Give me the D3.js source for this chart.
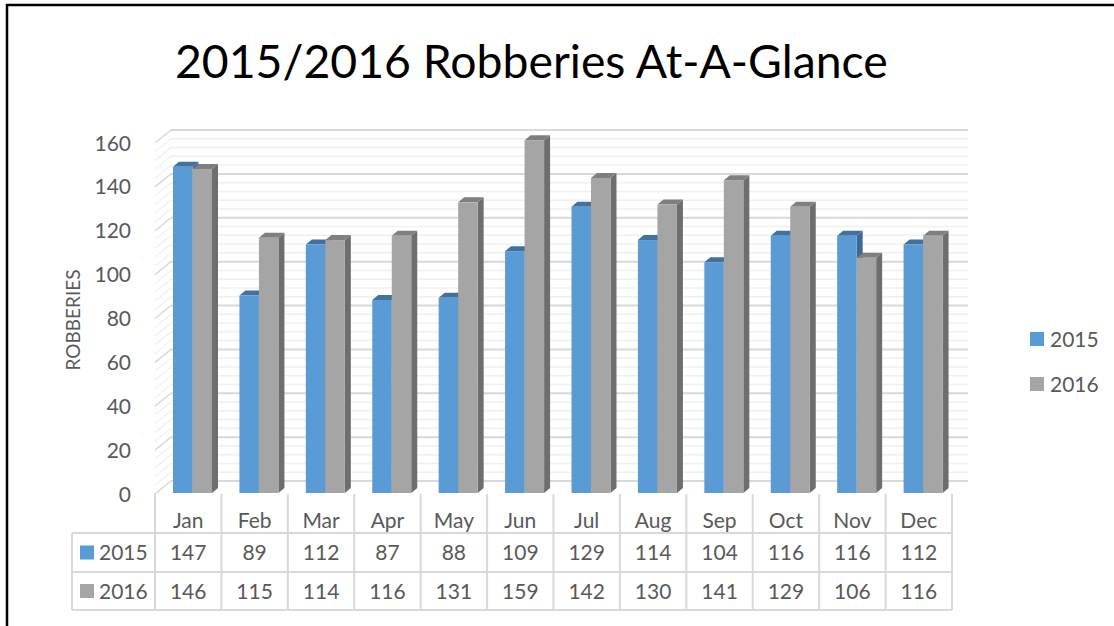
<!DOCTYPE html>
<html>
<head>
<meta charset="utf-8">
<script src="https://cdn.jsdelivr.net/npm/d3@7"></script>
<style>
  body { margin: 0; background: #fff; }
  svg { display: block; font-family: Lato, "Open Sans", sans-serif; }
</style>
</head>
<body>
<svg id="chart" width="1114" height="626"></svg>
<script>
var months = ["Jan", "Feb", "Mar", "Apr", "May", "Jun", "Jul", "Aug", "Sep", "Oct", "Nov", "Dec"];
var years = ["2015", "2016"];
var robberies2015 = [147, 89, 112, 87, 88, 109, 129, 114, 104, 116, 116, 112];
var robberies2016 = [146, 115, 114, 116, 131, 159, 142, 130, 141, 129, 106, 116];
var yTicks = [0, 20, 40, 60, 80, 100, 120, 140, 160];

var series = [robberies2015, robberies2016];
var svg = d3.select("#chart");
var textColor = "#595959";
var fs = 21;
var fill = ["#5b9bd5", "#a5a5a5"];
var topFill = ["#41719c", "#7f7f7f"];
var sideFill = ["#3c6a95", "#6e6e6e"];

// 3d depth offset of the back wall
var depthX = 16, depthY = -13;

var x = d3.scaleBand().domain(months).range([155, 952]);
var yLabel = d3.scaleLinear().domain([0, 160]).range([494, 143]);
var yBar = d3.scaleLinear().domain([0, 160]).range([493, 138]);

// frame
svg.append("path")
    .attr("d", "M7,626 L7,5 L1114,5")
    .attr("fill", "none")
    .attr("stroke", "#000")
    .attr("stroke-width", 2.5);

// title
var title = svg.append("text")
    .attr("x", 175)
    .attr("y", 78)
    .attr("font-size", 44)
    .attr("fill", "#000")
    .text("2015/2016 Robberies At-A-Glance");
var tw = title.node().getComputedTextLength();
title.attr("font-size", 44 * 713 / tw);

// gridlines: minor every 4, major every 20
var grid = svg.append("g");
var gridVals = d3.range(0, 161, 4);
var x0 = x.range()[0], x1 = x.range()[1];
gridVals.forEach(function (v) {
    var major = v % 20 === 0;
    var c = major ? "#d9d9d9" : "#f0f0f0";
    var yy = yLabel(v);
    grid.append("line")
        .attr("x1", x0).attr("y1", yy)
        .attr("x2", x0 + depthX).attr("y2", yy + depthY)
        .attr("stroke", c).attr("stroke-width", major ? 1.5 : 1.2);
    grid.append("line")
        .attr("x1", x0 + depthX).attr("y1", yy + depthY)
        .attr("x2", x1 + depthX).attr("y2", yy + depthY)
        .attr("stroke", c).attr("stroke-width", major ? 2 : 1.5);
});

// y axis labels
svg.append("g").selectAll("text")
    .data(yTicks)
    .enter().append("text")
    .attr("x", 131)
    .attr("y", d => yLabel(d))
    .attr("dy", "0.36em")
    .attr("text-anchor", "end")
    .attr("font-size", fs)
    .attr("fill", textColor)
    .text(d => d);

svg.append("text")
    .attr("transform", "translate(80,320) rotate(-90)")
    .attr("text-anchor", "middle")
    .attr("font-size", 19)
    .attr("fill", textColor)
    .text("ROBBERIES");

// bars
var barW = 19.5, offX = 18, tdx = 6, tdy = -5;
var bars = svg.append("g");
months.forEach(function (m, i) {
    series.forEach(function (vals, s) {
        var bx = x(m) + offX + s * barW;
        var top = yBar(vals[i]);
        var bottom = yBar(0);
        var g = bars.append("g");
        g.append("path")
            .attr("d", "M" + (bx + barW) + "," + bottom + " L" + (bx + barW + tdx) + "," + (bottom + tdy) +
                " L" + (bx + barW + tdx) + "," + (top + tdy) + " L" + (bx + barW) + "," + top + "Z")
            .attr("fill", sideFill[s]);
        g.append("path")
            .attr("d", "M" + bx + "," + top + " L" + (bx + tdx) + "," + (top + tdy) +
                " L" + (bx + barW + tdx) + "," + (top + tdy) + " L" + (bx + barW) + "," + top + "Z")
            .attr("fill", topFill[s]);
        g.append("rect")
            .attr("x", bx).attr("y", top)
            .attr("width", barW).attr("height", bottom - top)
            .attr("fill", fill[s]);
    });
});

// data table
var table = svg.append("g");
var lineC = "#d9d9d9";
var rowY = [494, 533, 572, 610];
var legendX = 72;
x.domain().forEach(function (m) {
    table.append("line")
        .attr("x1", x(m)).attr("x2", x(m))
        .attr("y1", rowY[0]).attr("y2", rowY[3])
        .attr("stroke", lineC).attr("stroke-width", 2);
});
table.append("line")
    .attr("x1", x1).attr("x2", x1)
    .attr("y1", rowY[0]).attr("y2", rowY[3])
    .attr("stroke", lineC).attr("stroke-width", 2);
table.append("line")
    .attr("x1", legendX).attr("x2", legendX)
    .attr("y1", rowY[1]).attr("y2", rowY[3])
    .attr("stroke", lineC).attr("stroke-width", 2);
rowY.slice(1).forEach(function (yy) {
    table.append("line")
        .attr("x1", legendX).attr("x2", x1)
        .attr("y1", yy).attr("y2", yy)
        .attr("stroke", lineC).attr("stroke-width", 2);
});

table.selectAll(".month")
    .data(months)
    .enter().append("text")
    .attr("class", "month")
    .attr("x", d => x(d) + x.bandwidth() / 2)
    .attr("y", 520)
    .attr("dy", "0.36em")
    .attr("text-anchor", "middle")
    .attr("font-size", fs)
    .attr("fill", textColor)
    .text(d => d);

series.forEach(function (vals, s) {
    var cy = (rowY[s + 1] + rowY[s + 2]) / 2;
    table.append("g").selectAll("text")
        .data(vals)
        .enter().append("text")
        .attr("x", (d, i) => x(months[i]) + x.bandwidth() / 2)
        .attr("y", cy)
        .attr("dy", "0.36em")
        .attr("text-anchor", "middle")
        .attr("font-size", fs)
        .attr("fill", textColor)
        .text(d => d);
    table.append("rect")
        .attr("x", 80).attr("y", cy - 7)
        .attr("width", 14).attr("height", 14)
        .attr("fill", fill[s]);
    table.append("text")
        .attr("x", 99).attr("y", cy)
        .attr("dy", "0.36em")
        .attr("font-size", fs)
        .attr("fill", textColor)
        .text(years[s]);
});

// legend
var legend = svg.append("g").selectAll("g")
    .data(years)
    .enter().append("g")
    .attr("transform", (d, i) => "translate(1030," + (339 + i * 45) + ")");
legend.append("rect")
    .attr("y", -7)
    .attr("width", 14).attr("height", 14)
    .attr("fill", (d, i) => fill[i]);
legend.append("text")
    .attr("x", 20)
    .attr("dy", "0.36em")
    .attr("font-size", fs)
    .attr("fill", textColor)
    .text(d => d);
</script>
</body>
</html>
